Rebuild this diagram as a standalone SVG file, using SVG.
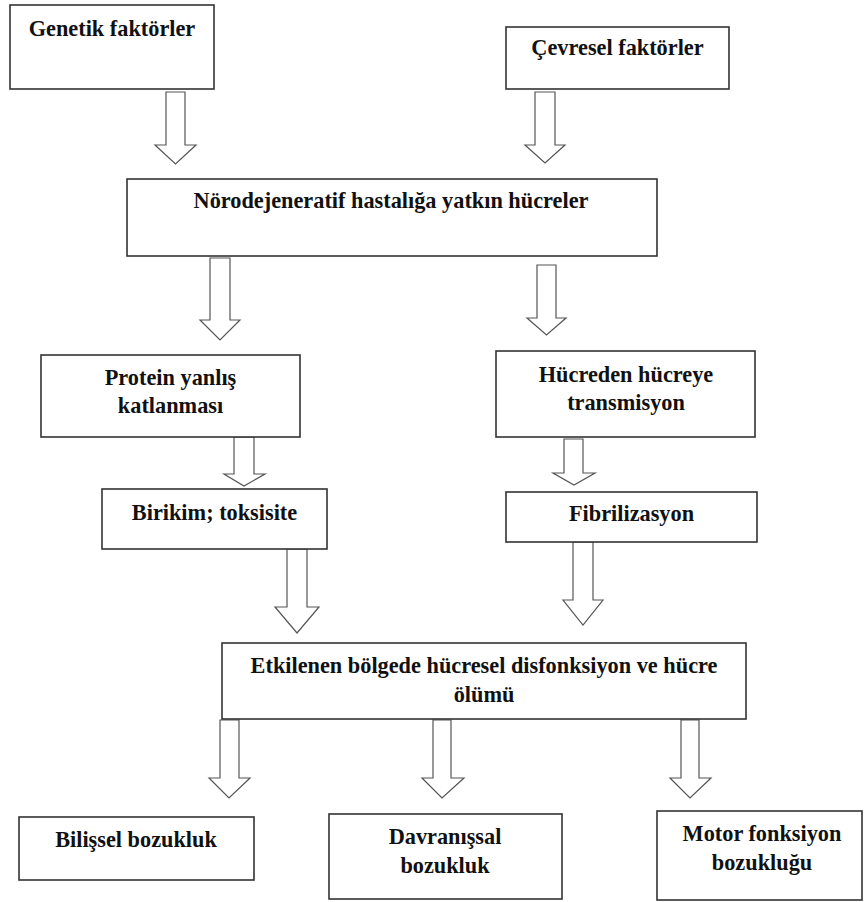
<svg xmlns="http://www.w3.org/2000/svg" width="864" height="902" viewBox="0 0 864 902">
<style>
.box{fill:#fff;stroke:#333;stroke-width:1.6}
.t{font-family:"Liberation Serif","Times New Roman",serif;font-weight:bold;font-size:22.3px;fill:#111;text-anchor:middle}
.arr{fill:#fff;stroke:#555;stroke-width:1.2;stroke-linejoin:miter}
</style>
<rect width="864" height="902" fill="#fff"/>
<g id="connectors">
<polygon class="arr" points="166,92 185,92 185,145 196,145 175.5,164 155,145 166,145"/>
<polygon class="arr" points="535,92 555,92 555,145 565,145 545,163 525,145 535,145"/>
<polygon class="arr" points="210,258 230,258 230,320 240,320 220,340 200,320 210,320"/>
<polygon class="arr" points="537,265 556,265 556,318 566,318 546.5,335 527,318 537,318"/>
<polygon class="arr" points="234,437 254,437 254,474 265,474 244,486 224,474 234,474"/>
<polygon class="arr" points="564,439 583,439 583,473 595,473 574,485 553,473 564,473"/>
<polygon class="arr" points="287,549 307,549 307,607 319,607 297,633 275,607 287,607"/>
<polygon class="arr" points="573,542 593,542 593,600 603,600 583,625 563,600 573,600"/>
<polygon class="arr" points="220,720 239,720 239,778 250,778 229,798 209,778 220,778"/>
<polygon class="arr" points="433,720 451,720 451,778 464,778 442,798 422,778 433,778"/>
<polygon class="arr" points="681,720 699,720 699,778 711,778 690,798 670,778 681,778"/>
</g>
<g id="genetik"><rect class="box" x="10" y="5" width="204" height="84"/><text class="t" x="112" y="36">Genetik faktörler</text></g>
<g id="cevresel"><rect class="box" x="506" y="27" width="223" height="62"/><text class="t" x="617.5" y="55">Çevresel faktörler</text></g>
<g id="yatkin"><rect class="box" x="127" y="179" width="530" height="77"/><text class="t" x="391" y="208">Nörodejeneratif hastalığa yatkın hücreler</text></g>
<g id="protein"><rect class="box" x="41" y="355" width="259" height="82"/><text class="t" x="170.5" y="385">Protein yanlış</text><text class="t" x="170.5" y="413">katlanması</text></g>
<g id="hucreden"><rect class="box" x="496" y="351" width="259" height="86"/><text class="t" x="626" y="382">Hücreden hücreye</text><text class="t" x="626" y="410">transmisyon</text></g>
<g id="birikim"><rect class="box" x="102" y="489" width="225" height="60"/><text class="t" x="214.5" y="520">Birikim; toksisite</text></g>
<g id="fibril"><rect class="box" x="506" y="492" width="251" height="50"/><text class="t" x="631.5" y="521">Fibrilizasyon</text></g>
<g id="etkilenen"><rect class="box" x="222" y="643" width="524" height="76"/><text class="t" x="484" y="673">Etkilenen bölgede hücresel disfonksiyon ve hücre</text><text class="t" x="484" y="702">ölümü</text></g>
<g id="bilissel"><rect class="box" x="19" y="817" width="235" height="63"/><text class="t" x="136" y="847">Bilişsel bozukluk</text></g>
<g id="davranissal"><rect class="box" x="329" y="814" width="233" height="85"/><text class="t" x="445" y="844">Davranışsal</text><text class="t" x="445" y="873">bozukluk</text></g>
<g id="motor"><rect class="box" x="657" y="811" width="205" height="89"/><text class="t" x="762" y="841">Motor fonksiyon</text><text class="t" x="762" y="870">bozukluğu</text></g>
</svg>
